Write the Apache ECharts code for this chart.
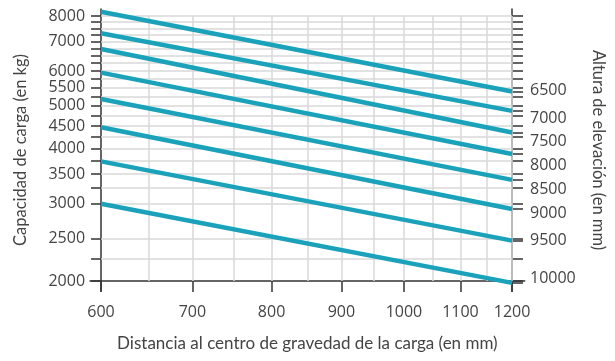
<!DOCTYPE html>
<html><head><meta charset="utf-8">
<script src="https://cdn.jsdelivr.net/npm/echarts@6/dist/echarts.min.js"></script>
<style>html,body{margin:0;padding:0;background:#fff}#c{width:615px;height:361px}</style>
</head><body><div id="c"></div>
<script>
// ---- data ----
const distanceStart = 600;
const distanceEnd = 1200;
const liftHeights = [6500, 7000, 7500, 8000, 8500, 9000, 9500, 10000];
const capacityAt600 = [8180, 7310, 6730, 5950, 5180, 4470, 3740, 2995];
const capacityAt1200 = [5390, 4870, 4350, 3885, 3395, 2915, 2470, 1980];
const xTickLabels = [600, 700, 800, 900, 1000, 1100, 1200];
const xGridValues = [650, 700, 750, 800, 850, 900, 950, 1000, 1050, 1100, 1150, 1200];
const yTickLabels = [2000, 2500, 3000, 3500, 4000, 4500, 5000, 5500, 6000, 7000, 8000];
const yGridValues = [2000, 2250, 2500, 3000, 3250, 3500, 3750, 4000, 4250, 4500, 4750, 5000, 5250, 5500, 5750, 6000, 6250, 6500, 6750, 7000, 7250, 7500, 7750, 8000];
const rightLabelPositions = [5411, 4691, 4144, 3669, 3236, 2854, 2478, 2032];

// ---- layout ----
const W = 615, H = 361;
const gridL = 90, gridR = 88, gridT = 9, gridB = 70;
const xMin = 589, xMax = 1226, yMin = 1898, yMax = 8298;
const gw = W - gridL - gridR, gh = H - gridT - gridB;
const offL = -gw * Math.log(distanceStart / xMin) / Math.log(xMax / xMin);
const offR = -gw * Math.log(xMax / distanceEnd) / Math.log(xMax / xMin);
const offB = -gh * Math.log(yTickLabels[0] / yMin) / Math.log(yMax / yMin);

const FONT = 'Lato';
const NUMFONT = 'Open Sans';
const txt = '#444';
const axisCol = '#333';
const lineCol = '#1aa2ba';

const series = liftHeights.map((h, i) => ({
  type: 'line', name: String(h), z: 3,
  data: [[distanceStart, capacityAt600[i]], [distanceEnd, capacityAt1200[i]]],
  symbol: 'none', lineStyle: { color: lineCol, width: 4.5 }, silent: true
}));

const gridLines = [];
yGridValues.slice(1).forEach(v => gridLines.push([{ coord: [distanceStart, v] }, { coord: [distanceEnd, v] }]));
xGridValues.forEach(v => gridLines.push([{ coord: [v, yTickLabels[0]] }, { coord: [v, yGridValues[yGridValues.length - 1]] }]));
series.unshift({
  type: 'line', z: 1, data: [], silent: true,
  markLine: { z: 1, symbol: 'none', silent: true, animation: false, label: { show: false },
    lineStyle: { color: '#d8d8d8', width: 1.5, type: 'solid' }, data: gridLines }
});

const plain = (v) => String(Math.round(v));

const chart = echarts.init(document.getElementById('c'), null, { renderer: 'canvas' });
chart.setOption({
  animation: false,
  backgroundColor: '#fff',
  textStyle: { fontFamily: FONT },
  grid: { left: gridL, right: gridR, top: gridT, bottom: gridB, containLabel: false },
  xAxis: {
    type: 'log', min: xMin, max: xMax, offset: offB,
    name: 'Distancia al centro de gravedad de la carga (en mm)',
    nameLocation: 'middle', nameGap: 54,
    nameTextStyle: { fontSize: 17, color: txt, fontFamily: FONT },
    axisLine: { lineStyle: { color: axisCol, width: 1.5 } },
    axisTick: { customValues: xTickLabels, length: 11, lineStyle: { color: axisCol, width: 1.5 } },
    axisLabel: { customValues: xTickLabels, fontSize: 16, color: txt, margin: 23, fontFamily: NUMFONT, formatter: plain },
    splitLine: { show: false }, minorTick: { show: false }
  },
  yAxis: [{
    type: 'log', min: yMin, max: yMax, position: 'left', offset: offL,
    name: 'Capacidad de carga (en kg)', nameLocation: 'middle', nameGap: 72,
    nameTextStyle: { fontSize: 16.5, color: txt, fontFamily: FONT },
    axisLine: { show: true, lineStyle: { color: axisCol, width: 1.5 } },
    axisTick: { show: true, customValues: yGridValues, length: 10, lineStyle: { color: axisCol, width: 1.5 } },
    axisLabel: { customValues: yTickLabels, fontSize: 16, color: txt, margin: 16, fontFamily: NUMFONT, formatter: plain },
    splitLine: { show: false }
  }, {
    type: 'log', min: yMin, max: yMax, position: 'right', offset: offR,
    name: 'Altura de elevación (en mm)', nameLocation: 'middle', nameGap: 78, nameRotate: -90,
    nameTextStyle: { fontSize: 16.5, color: txt, fontFamily: FONT },
    axisLine: { show: true, lineStyle: { color: axisCol, width: 1.5 } },
    axisTick: { show: true, customValues: yGridValues.concat(capacityAt1200), length: 11, lineStyle: { color: axisCol, width: 1.5 } },
    axisLabel: { customValues: rightLabelPositions, fontSize: 16, color: txt, margin: 18, fontFamily: NUMFONT,
      formatter: (v) => { const i = rightLabelPositions.indexOf(Math.round(v)); return i >= 0 ? String(liftHeights[i]) : ''; } },
    splitLine: { show: false }
  }],
  series: series
});
</script></body></html>
